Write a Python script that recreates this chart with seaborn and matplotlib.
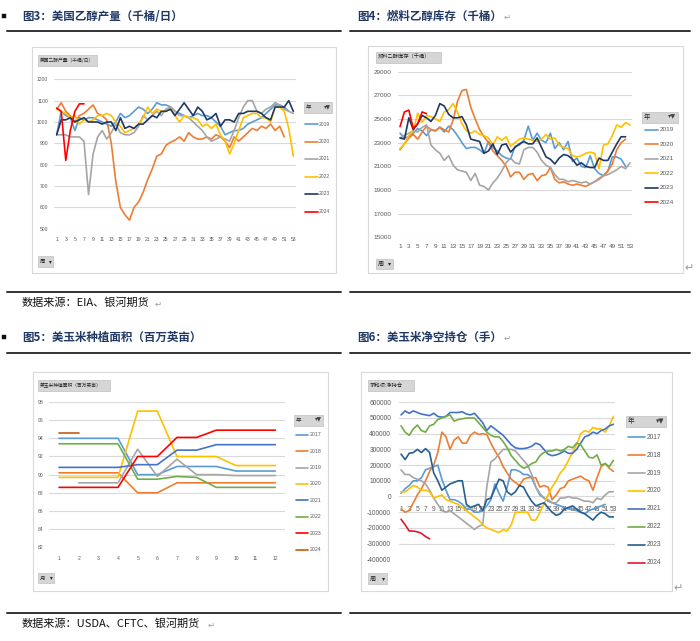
import numpy as np
import pandas as pd
import seaborn as sns
import matplotlib.pyplot as plt
from matplotlib.lines import Line2D
from matplotlib.patches import Rectangle

# ---- chart data ----
weeks_tick = list(range(1, 54, 2))

# 图3 美国乙醇产量（千桶/日）
prod_years = ["2019", "2020", "2021", "2022", "2023", "2024"]
prod_2019 = [940, 1050, 1030, 1020, 960, 1020, 1010, 1020, 1020, 1010, 1000, 990, 980, 1000, 1040,
             1020, 1030, 1050, 1070, 1060, 1040, 1060, 1090, 1080, 1080, 1070, 1050, 1040, 1030, 1020,
             1030, 1040, 1030, 1030, 1020, 1000, 980, 940, 950, 960, 960, 970, 990, 1000, 1010, 1020,
             1040, 1060, 1080, 1080, 1070, 1050]
prod_2020 = [1060, 1090, 1050, 1030, 1000, 1030, 1040, 1060, 1080, 1040, 1030, 1010, 900, 720, 600,
             565, 540, 600, 625, 670, 730, 780, 840, 850, 890, 905, 915, 930, 910, 950, 930, 920, 920,
             930, 920, 940, 930, 910, 880, 930, 910, 930, 950, 970, 960, 980, 970, 990, 960, 980, 930]
prod_2021 = [940, 940, 940, 930, 930, 930, 910, 660, 850, 930, 960, 920, 950, 990, 950, 940, 940, 950,
             980, 1030, 1010, 1030, 1050, 1030, 1060, 1070, 1050, 1030, 1030, 1020, 1000, 980, 960, 930,
             910, 920, 930, 920, 910, 960, 1020, 1070, 1100, 1100, 1050, 1040, 1060, 1070, 1090, 1080,
             1060, 1050, 1040]
prod_2022 = [1060, 1050, 1040, 1020, 1030, 990, 1010, 1000, 1010, 1030, 1030, 1040, 1030, 1000, 980,
             950, 960, 970, 990, 1020, 1070, 1040, 1060, 1050, 1050, 1060, 1030, 1000, 1030, 1020, 1020,
             1010, 980, 990, 970, 990, 940, 910, 850, 900, 960, 1020, 1030, 1040, 1040, 1020, 1020, 1000,
             1070, 1070, 1050, 970, 840]
prod_2023 = [940, 1010, 1010, 1020, 1000, 1010, 1020, 1000, 1000, 1000, 990, 1000, 1000, 960, 1020,
             970, 980, 970, 990, 990, 1010, 1030, 1020, 1050, 1050, 1060, 1030, 1060, 1090, 1060, 1030,
             1070, 1050, 1010, 1020, 1040, 980, 1010, 1010, 1000, 1040, 1040, 1050, 1050, 1050, 1040,
             1020, 1010, 1070, 1070, 1070, 1100, 1050]
prod_2024 = [1065, 1050, 820, 960, 1050, 1085, 1085]

# 图4 燃料乙醇库存（千桶）
stock_years = ["2019", "2020", "2021", "2022", "2023", "2024"]
stock_2019 = [23800, 23400, 23500, 23800, 24200, 24000, 23600, 24100, 24000, 24300, 23900, 24400,
              24100, 23600, 23000, 22500, 22600, 22600, 22400, 22100, 23100, 22600, 22300, 21900, 21700,
              21600, 22700, 22800, 23200, 24400, 23200, 23800, 23200, 23000, 23800, 22500, 23000, 22400,
              23100, 21400, 21700, 21000, 20900, 21900, 20800, 20400, 20200, 20600, 21800, 21800, 21600,
              21000]
stock_2020 = [22400, 22900, 23400, 23700, 23300, 23900, 24400, 24100, 24000, 24300, 24100, 23900,
              24900, 26500, 27400, 27500, 26000, 25000, 24100, 23500, 23000, 22300, 21900, 21500, 21000,
              20100, 20500, 20500, 19900, 20300, 20400, 19800, 20200, 20300, 20900, 19900, 19600, 19700,
              19500, 19400, 19500, 19400, 19300, 19500, 19700, 19900, 20200, 20600, 21200, 22400, 23000,
              23300]
stock_2021 = [23400, 23600, 23800, 24000, 23900, 24300, 24500, 22800, 22400, 22100, 21500, 21900,
              21100, 20700, 20600, 20500, 19800, 20400, 19400, 19300, 19000, 19600, 20000, 20600, 21300,
              21700, 21300, 21200, 22400, 22600, 22600, 22200, 21500, 21100, 20900, 20300, 19900, 19900,
              19700, 19800, 19700, 19600, 19700, 19500, 19700, 20000, 20200, 20300, 20500, 20700, 21000,
              20800, 21300]
stock_2022 = [22500, 22900, 23600, 24000, 25500, 24700, 25300, 25200, 25000, 24800, 25600, 25800,
              26300, 25600, 24600, 24000, 23800, 24000, 23700, 23600, 23400, 22800, 23500, 23200, 23500,
              22700, 23000, 23300, 23400, 23300, 23200, 23100, 23300, 23700, 23300, 23400, 22800, 22600,
              22500, 21900, 21800, 21900, 22100, 22200, 22100, 20800, 22800, 22900, 23600, 24500, 24300,
              24700, 24500]
stock_2023 = [23400, 23300, 25100, 24100, 24600, 25300, 25100, 24800, 25300, 26300, 26100, 25400,
              25100, 25100, 25200, 24500, 23300, 23200, 23100, 22100, 22300, 22900, 22000, 22800, 22900,
              22200, 22600, 22900, 23100, 22900, 22900, 23400, 22600, 21800, 21600, 21200, 21700, 22000,
              21900, 21600, 21100, 21300, 21000, 20900, 20900, 21700, 21500, 21500, 22200, 22900, 23500,
              23500]
stock_2024 = [24350, 25600, 25750, 24200, 24600, 25600, 25450]

# 图5 美玉米种植面积（百万英亩）
months = list(range(1, 13))
area_years = ["2017", "2018", "2019", "2020", "2021", "2022", "2023", "2024"]
area_2017 = [94.0, 94.0, 94.0, 94.0, 90.0, 90.0, 90.9, 90.9, 90.9, 90.4, 90.4, 90.4]
area_2018 = [90.2, 90.2, 90.2, 90.2, 88.0, 88.0, 89.1, 89.1, 89.1, 89.1, 89.1, 89.1]
area_2019 = [np.nan, 89.1, 89.1, 89.1, 92.8, 89.8, 91.7, 90.0, 90.0, 89.9, 89.9, 89.9]
area_2020 = [89.7, 89.7, 89.7, 89.7, 97.0, 97.0, 92.0, 92.0, 92.0, 91.0, 91.0, 91.0]
area_2021 = [90.8, 90.8, 90.8, 90.8, 91.1, 91.1, 92.7, 92.7, 93.3, 93.3, 93.3, 93.3]
area_2022 = [93.4, 93.4, 93.4, 93.4, 89.5, 89.5, 89.8, 89.7, 88.6, 88.6, 88.6, 88.6]
area_2023 = [88.6, 88.6, 88.6, 88.6, 92.0, 92.0, 94.1, 94.1, 94.9, 94.9, 94.9, 94.9]
area_2024 = [94.6, 94.6]

# 图6 美玉米净空持仓（手）, in thousands
pos_years = ["2017", "2018", "2019", "2020", "2021", "2022", "2023", "2024"]
pos_2017 = [20, 50, 70, 100, 100, 120, 170, 180, 190, 200, 110, 40, -20, -20, -30, -50, -80, -80,
            -100, -100, -90, -60, -20, 80, 20, -30, 60, 170, 170, 160, 140, 140, 120, 60, 10, -10, -30,
            -40, -50, -60, -70, -80, -80, -90, -100, -110, -90, -80, -70, -60, -50]
pos_2018 = [-80, -100, -90, -40, 10, 50, 100, 160, 200, 280, 410, 380, 300, 360, 380, 340, 340, 390,
            410, 395, 400, 395, 340, 290, 250, 190, 150, 110, 90, 70, 110, 120, 120, 120, 60, 70, 60,
            -20, 10, 50, 60, 100, 110, 120, 130, 110, 100, 40, 120, 190, 210, 180, 160]
pos_2019 = [170, 140, 140, 120, 110, 100, 80, 40, -10, -50, -90, -100, -90, -110, -130, -150, -170,
            -190, -210, -190, -180, 60, 220, 240, 270, 300, 300, 300, 290, 260, 230, 200, 140, 60, 20,
            -10, -20, -40, -40, -10, -10, 0, -10, -10, -20, -30, -30, -40, -10, -20, 10, 30, 30]
pos_2020 = [30, 30, 50, 70, 60, 40, 40, 30, -10, 0, 10, -20, -30, -40, -50, -70, -90, -110, -130,
            -150, -180, -200, -210, -220, -230, -210, -220, -180, -100, -100, -100, -100, -150, -150,
            -100, -50, 10, 60, 100, 150, 180, 230, 280, 330, 400, 420, 410, 440, 430, 430, 410, 450, 510]
pos_2021 = [520, 545, 530, 545, 535, 525, 520, 515, 530, 510, 505, 510, 535, 535, 535, 540, 525, 520,
            530, 500, 470, 420, 450, 430, 410, 390, 360, 330, 310, 305, 305, 310, 320, 340, 330, 300,
            270, 260, 265, 275, 290, 275, 275, 300, 340, 380, 390, 410, 400, 420, 430, 450, 460]
pos_2022 = [450, 410, 390, 430, 455, 420, 410, 450, 460, 490, 500, 510, 520, 480, 490, 495, 500, 500,
            500, 470, 440, 410, 390, 380, 380, 350, 310, 260, 230, 200, 180, 190, 210, 220, 260, 280,
            290, 290, 300, 290, 300, 320, 310, 340, 330, 290, 250, 245, 265, 200, 210, 190, 230]
pos_2023 = [270, 235, 275, 280, 300, 280, 305, 280, 150, 100, 40, 60, 80, 90, 100, 100, -50, -70, -60,
            -50, -90, -20, -10, 50, 110, 100, 30, 10, 30, 70, 60, 10, -30, -60, -50, -40, -70, -100,
            -120, -110, -80, -70, -60, -80, -100, -110, -130, -150, -120, -100, -110, -130, -130]
pos_2024 = [-145, -180, -220, -220, -225, -235, -255, -270]

W, H = 700, 641
CJK = ["Noto Sans CJK SC", "DejaVu Sans"]
NUM = ["Liberation Sans", "Noto Sans CJK SC", "DejaVu Sans"]

sns.set_theme(style="white")
plt.rcParams["font.family"] = CJK

fig = plt.figure(figsize=(W / 100, H / 100), dpi=100)


def fx(x):
    return x / W


def fy(y):
    return 1 - y / H


def rule(x0, x1, y):
    fig.add_artist(Line2D([fx(x0), fx(x1)], [fy(y), fy(y)], color="#333333", lw=1.4))


def box(x0, y0, x1, y1, fc="white", ec="#D9D9D9", lw=0.8, z=0):
    fig.add_artist(Rectangle((fx(x0), fy(y1)), (x1 - x0) / W, (y1 - y0) / H,
                             facecolor=fc, edgecolor=ec, lw=lw, zorder=z))


def tag(x0, y0, x1, y1, label, fs, arrow=False, funnel=False):
    box(x0, y0, x1, y1, fc="#D6D6D6", ec="#BFBFBF", lw=0.5, z=2)
    fig.text(fx(x0 + 1.5), fy((y0 + y1) / 2), label, fontsize=fs, va="center",
             color="#262626", zorder=3)
    if arrow:
        fig.text(fx(x1 - 1.5), fy((y0 + y1) / 2), "▾", fontsize=fs, va="center", ha="right",
                 color="#262626", family=["DejaVu Sans"], zorder=3)
    if funnel:
        fig.text(fx(x1 - 1.5), fy((y0 + y1) / 2), "▾▼", fontsize=fs, va="center", ha="right",
                 color="#404040", family=["DejaVu Sans"], zorder=3)


def title(x, y, s, bullet=False, mark_x=None):
    fig.text(fx(x), fy(y), s, fontsize=8.3, fontweight="bold", color="#1F3864", va="center")
    if bullet:
        box(2, y - 2, 5.5, y + 2, fc="#111111", ec="#111111", lw=0.3, z=3)
    if mark_x is not None:
        fig.text(fx(mark_x), fy(y + 1), "↵", fontsize=6, color="#9A9A9A", va="center",
                 family=["DejaVu Sans"])


def legend_block(years, colors, xl0, xl1, xt, y0, step, fs):
    for i, (yr, c) in enumerate(zip(years, colors)):
        y = y0 + i * step
        fig.add_artist(Line2D([fx(xl0), fx(xl1)], [fy(y), fy(y)], color=c, lw=1.2))
        fig.text(fx(xt), fy(y), yr, fontsize=fs, va="center", color="#595959", family=NUM)


def long_frame(xs, years, series):
    rows = []
    for yr, vals in zip(years, series):
        for x, v in zip(xs, vals):
            if not np.isnan(v):
                rows.append((x, v, yr))
    return pd.DataFrame(rows, columns=["x", "v", "year"])


def plot_panel(rect, df, years, colors, xlim, ylim, yticks, xticks, fs, xpad, ypad,
               zero_axis=False, fmt=None):
    left, top, right, bottom = rect
    ax = fig.add_axes([fx(left), fy(bottom), (right - left) / W, (bottom - top) / H])
    ax.set_facecolor("none")
    sns.lineplot(data=df, x="x", y="v", hue="year", hue_order=years,
                 palette=dict(zip(years, colors)), ax=ax, legend=False, lw=1.2,
                 estimator=None, sort=False, zorder=3)
    ax.set_xlim(*xlim)
    ax.set_ylim(*ylim)
    ax.set_yticks(yticks)
    ax.set_xticks(xticks)
    if fmt:
        ax.set_yticklabels([fmt(t) for t in yticks])
    ax.set_xlabel("")
    ax.set_ylabel("")
    ax.yaxis.grid(True, color="#D9D9D9", lw=0.8)
    ax.xaxis.grid(False)
    for s in ax.spines.values():
        s.set_visible(False)
    if zero_axis:
        ax.spines["bottom"].set_visible(True)
        ax.spines["bottom"].set_color("none")
        ax.spines["bottom"].set_position(("data", 0))
    ax.tick_params(axis="x", length=0, labelsize=fs, colors="#595959", pad=xpad)
    ax.tick_params(axis="y", length=0, labelsize=fs, colors="#595959", pad=ypad)
    for lab in ax.get_xticklabels() + ax.get_yticklabels():
        lab.set_family(NUM)
    return ax


# ---------------- page furniture ----------------
rule(7, 341, 31)
rule(350, 690, 31)
rule(7, 341, 291.5)
rule(350, 690, 291.5)
rule(7, 341, 352.5)
rule(350, 690, 352.5)
rule(7, 341, 612.5)
rule(350, 690, 612.5)

title(22, 16, "图3：美国乙醇产量（千桶/日）", bullet=True)
title(357, 16, "图4：燃料乙醇库存（千桶）", mark_x=504)
title(22, 337, "图5：美玉米种植面积（百万英亩）", bullet=True)
title(357, 337, "图6：美玉米净空持仓（手）", mark_x=504)

fig.text(fx(22), fy(303), "数据来源：EIA、银河期货", fontsize=8, color="#111111", va="center")
fig.text(fx(155), fy(304), "↵", fontsize=6, color="#9A9A9A", va="center", family=["DejaVu Sans"])
fig.text(fx(22), fy(624), "数据来源：USDA、CFTC、银河期货", fontsize=8, color="#111111", va="center")
fig.text(fx(208), fy(625), "↵", fontsize=6, color="#9A9A9A", va="center", family=["DejaVu Sans"])
fig.text(fx(684), fy(268), "↵", fontsize=8, color="#9A9A9A", va="center", family=["DejaVu Sans"])
fig.text(fx(673), fy(588), "↵", fontsize=8, color="#9A9A9A", va="center", family=["DejaVu Sans"])

# chart frames
box(32, 47, 336, 273)
box(368, 46, 683, 273)
box(33, 372, 328, 591)
box(361, 372, 672, 591)

six = ["#5B9BD5", "#ED7D31", "#A5A5A5", "#FFC000", "#203864", "#FF0000"]
eight_area = ["#5B9BD5", "#ED7D31", "#A5A5A5", "#FFC000", "#4472C4", "#70AD47", "#FF0000", "#C55A11"]
eight_pos = ["#5B9BD5", "#ED7D31", "#A5A5A5", "#FFC000", "#4472C4", "#70AD47", "#255E91", "#E3162C"]

# ---------------- 图3 ----------------
df1 = long_frame(range(1, 54), prod_years,
                 [prod_2019, prod_2020, prod_2021, prod_2022, prod_2023, prod_2024])
plot_panel((54.4, 79.3, 295.6, 228.7), df1, prod_years, six, (0.5, 53.5), (500, 1200),
           list(range(500, 1201, 100)), weeks_tick, 3.6, 6.3, 4.6)
tag(38, 55, 97, 66, "美国乙醇产量（千桶/日）", 3.4)
tag(38, 256, 53, 267, "周", 4, arrow=True)
tag(304, 102, 332, 113, "年", 4, funnel=True)
legend_block(prod_years, six, 305, 318, 319, 124, 17.5, 3.6)

# ---------------- 图4 ----------------
df2 = long_frame(range(1, 54), stock_years,
                 [stock_2019, stock_2020, stock_2021, stock_2022, stock_2023, stock_2024])
plot_panel((397.8, 71.7, 632.2, 237.3), df2, stock_years, six, (0.5, 53.5), (15000, 29000),
           list(range(15000, 29001, 2000)), weeks_tick, 4.6, 4.6, 4.2)
tag(376, 52, 441, 62.5, "燃料乙醇库存（千桶）", 3.8)
tag(376, 259, 393, 269, "周", 4.4, arrow=True)
tag(642, 112, 678, 122.5, "年", 4.6, funnel=True)
legend_block(stock_years, six, 645, 658, 660, 129.7, 14.5, 4.6)

# ---------------- 图5 ----------------
df3 = long_frame(months, area_years,
                 [area_2017, area_2018, area_2019, area_2020, area_2021, area_2022, area_2023,
                  area_2024])
plot_panel((49.2, 402, 285.1, 547.3), df3, area_years, eight_area, (0.5, 12.5), (82, 98),
           list(range(82, 99, 2)), months, 3.6, 6.4, 4.4)
tag(38, 380, 110, 391, "美玉米种植面积（百万英亩）", 3.4)
tag(38, 573, 54, 583, "月", 4, arrow=True)
tag(294, 415, 323, 425.5, "年", 4, funnel=True)
legend_block(area_years, eight_area, 296, 308, 310, 434.7, 16.4, 3.8)

# ---------------- 图6 ----------------
pos_k = [[v * 1000 for v in s] for s in
         [pos_2017, pos_2018, pos_2019, pos_2020, pos_2021, pos_2022, pos_2023, pos_2024]]
df4 = long_frame(range(1, 54), pos_years, pos_k)
plot_panel((399, 402.3, 615.4, 559.3), df4, pos_years, eight_pos, (0.5, 53.5),
           (-400000, 600000), list(range(-400000, 600001, 100000)), weeks_tick, 4.8, 7.0, 5.7,
           zero_axis=True, fmt=lambda t: f"{t}")
tag(368, 380, 414, 391, "求和项:净持仓", 3.8)
tag(368, 573, 387, 584, "周", 4.4, arrow=True)
tag(626, 416, 666, 427, "年", 4.8, funnel=True)
legend_block(pos_years, eight_pos, 628, 645, 647, 437.3, 17.9, 4.8)

fig.savefig("out.png", dpi=100, facecolor="white")
